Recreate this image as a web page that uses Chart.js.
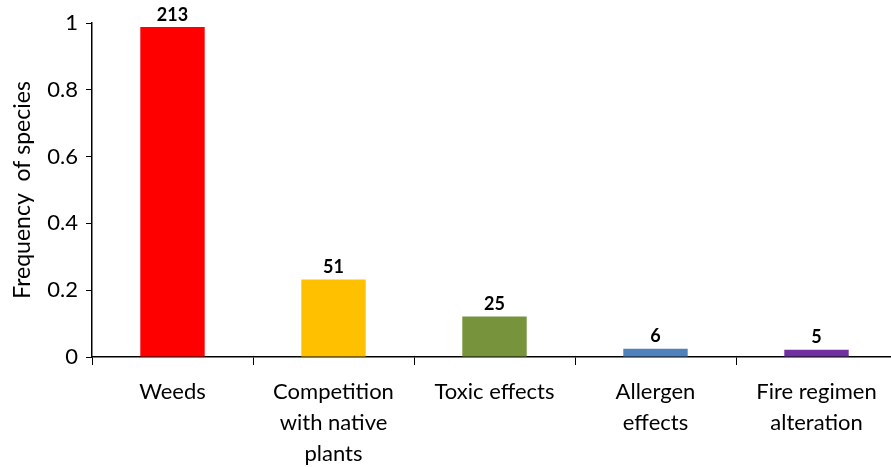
<!DOCTYPE html>
<html>
<head>
<meta charset="utf-8">
<script src="https://cdn.jsdelivr.net/npm/chart.js@4"></script>
<style>
html,body{margin:0;padding:0;background:#fff;overflow:hidden;}
#wrap{position:relative;width:897px;height:467px;}
</style>
</head>
<body>
<div id="wrap"><canvas id="c"></canvas></div>
<script>
const categories = [["Weeds"], ["Competition", "with native", "plants"], ["Toxic effects"], ["Allergen", "effects"], ["Fire regimen", "alteration"]];
const frequencies = [0.988, 0.232, 0.121, 0.025, 0.022];
const counts = [213, 51, 25, 6, 5];
const barColors = ["#FF0000", "#FFC000", "#77933C", "#4F81BD", "#7030A0"];
const yTicks = [0, 0.2, 0.4, 0.6, 0.8, 1];
const yTitle = "Frequency  of species";

const FONT = "Lato, 'Open Sans', sans-serif";

const valueLabels = {
  id: 'valueLabels',
  afterDatasetsDraw(chart) {
    const ctx = chart.ctx;
    const meta = chart.getDatasetMeta(0);
    ctx.save();
    ctx.font = "bold 18px " + FONT;
    ctx.fillStyle = "#000";
    ctx.textAlign = "center";
    ctx.textBaseline = "bottom";
    meta.data.forEach((bar, i) => {
      ctx.fillText(String(counts[i]), bar.x, bar.y - 3);
    });
    ctx.restore();
  }
};

new Chart(document.getElementById('c'), {
  type: 'bar',
  data: {
    labels: categories,
    datasets: [{
      data: frequencies,
      backgroundColor: barColors,
      borderWidth: 0,
      barPercentage: 0.4,
      categoryPercentage: 1.0
    }]
  },
  options: {
    responsive: true,
    maintainAspectRatio: false,
    animation: false,
    layout: { padding: { top: 23, right: 0, left: 0, bottom: 0 } },
    plugins: { legend: { display: false }, tooltip: { enabled: false } },
    scales: {
      x: {
        offset: true,
        grid: { offset: true, drawOnChartArea: false, drawTicks: true, tickLength: 8, color: "#000", lineWidth: 1 },
        border: { color: "#000", width: 1.5 },
        ticks: { color: "#000", font: { family: FONT, size: 22, lineHeight: 1.4 }, padding: 12, maxRotation: 0, autoSkip: false },
        afterFit(s) { s.height = 110; }
      },
      y: {
        min: 0, max: 1,
        afterBuildTicks(s) { s.ticks = yTicks.map(v => ({ value: v })); },
        grid: { drawOnChartArea: false, drawTicks: true, tickLength: 6, color: "#000", lineWidth: 1 },
        border: { color: "#000", width: 1.5 },
        ticks: { color: "#000", font: { family: FONT, size: 22 }, padding: 8, callback: v => String(v) },
        title: { display: true, text: yTitle, color: "#000", font: { family: FONT, size: 23 }, padding: { top: 9, bottom: 0 } },
        afterFit(s) { s.width = 92; }
      }
    }
  },
  plugins: [valueLabels]
});
</script>
</body>
</html>
